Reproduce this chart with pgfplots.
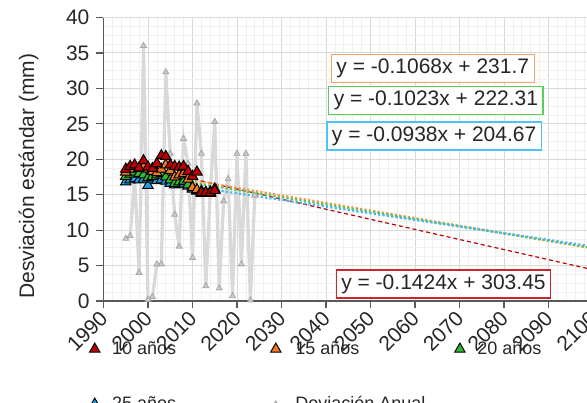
\documentclass[border=0pt]{standalone}
\usepackage{fontspec}
\setmainfont{Liberation Sans}
\usepackage{pgfplots}
\pgfplotsset{compat=1.18}

\definecolor{cRed}{HTML}{C00000}
\definecolor{cOrange}{HTML}{F57A1F}
\definecolor{cGreen}{HTML}{33B833}
\definecolor{cBlue}{HTML}{1AA5E6}
\definecolor{cGray}{HTML}{A6A6A6}
\definecolor{cLine}{HTML}{D9D9D9}
\definecolor{txt}{HTML}{262626}
\definecolor{axl}{HTML}{595959}
\definecolor{bOrange}{HTML}{F4A460}
\definecolor{bGreen}{HTML}{5ACD5A}
\definecolor{bBlue}{HTML}{4FC3F7}
\definecolor{bRed}{HTML}{C8282D}

\pgfplotsset{
    tri/.style={only marks, mark=triangle*, mark size=3pt,
        mark options={fill=#1, draw=black, line width=0.5pt},
        legend image code/.code={
            \draw[##1] plot coordinates {(0pt,0pt)};
            \path (-3pt,0pt) (6.5pt,0pt);}},
    annual/.style={cLine, line width=1.6pt, mark=triangle*, mark size=1.7pt,
        mark options={fill=black!20, draw=cGray, line width=0.4pt},
        legend image code/.code={
            \draw[##1, mark repeat=2, mark phase=2]
                plot coordinates {(-7pt,0pt) (0pt,0pt) (7pt,0pt)};}},
}

\begin{document}
\begin{tikzpicture}
\useasboundingbox (-51.75pt,-50.5pt) rectangle (241.75pt,150.5pt);
\begin{axis}[
    at={(0pt,0pt)}, anchor=south west,
    width=244.75pt, height=141.75pt, scale only axis,
    xmin=1990, xmax=2100, ymin=0, ymax=40,
    xtick={1990,2000,...,2100}, ytick={0,5,...,40},
    minor x tick num=4, minor y tick num=3,
    grid=both,
    major grid style={cLine, line width=0.5pt},
    minor grid style={black!6, line width=0.4pt},
    axis x line*=bottom, axis y line*=left,
    axis line style={axl, line width=0.7pt},
    tick align=outside, major tick length=3.5pt, minor tick length=0pt,
    tick style={axl, line width=0.6pt},
    /pgf/number format/1000 sep={},
    /pgf/number format/assume math mode=true,
    tick label style={font=\fontsize{10.5}{12.6}\selectfont, text=txt},
    xticklabel style={xshift=-2.5pt, yshift=1pt, rotate=45, anchor=north east, inner sep=1pt},
    ylabel={Desviación estándar (mm)},
    ylabel style={font=\fontsize{10.5}{12.6}\selectfont, text=txt,
        at={(axis description cs:-0.153,0.44)}, anchor=center},
    legend columns=3,
    legend cell align=left,
    legend style={at={(axis description cs:-0.044,-0.112)}, anchor=north west,
        draw=none, fill=none, font=\fontsize{9}{10.8}\selectfont, text=txt,
        /tikz/column 2/.style={column sep=40pt},
        /tikz/column 4/.style={column sep=12pt},
        /tikz/row sep=15.5pt},
]

% annual series, drawn first so it sits behind
\addplot[annual, forget plot]
coordinates {
(1995,8.8) (1996,9.2) (1997,17.5) (1998,4.0) (1999,36.0) (2000,0.2)
(2001,0.6) (2002,5.2) (2003,5.2) (2004,32.3) (2005,20.8) (2006,12.2)
(2007,7.7) (2008,22.9) (2009,19.4) (2010,6.1) (2011,27.9) (2012,20.8)
(2013,2.1) (2014,15.5) (2015,25.3) (2016,1.8) (2017,14.1) (2018,17.2)
(2019,0.7) (2020,20.8) (2021,5.2) (2022,20.8) (2023,0.1) (2024,14.9)
};

% trend lines (endpoints from the fitted equations)
\addplot[cRed, line width=0.6pt, dash pattern=on 2pt off 1.5pt, forget plot]
    coordinates {(1995,19.36) (2100,4.41)};
\addplot[cOrange!80, line width=1.1pt, dash pattern=on 1.1pt off 1.1pt, forget plot]
    coordinates {(1995,18.63) (2100,7.42)};
\addplot[cGreen!80, line width=1.1pt, dash pattern=on 1.1pt off 1.1pt, forget plot]
    coordinates {(1995,18.22) (2100,7.48)};
\addplot[cBlue!80, line width=1.1pt, dash pattern=on 1.1pt off 1.1pt, forget plot]
    coordinates {(1995,17.54) (2100,7.69)};

% 25 años
\addplot[tri=cBlue, forget plot]
coordinates {
(1995,16.8) (1996,17.1) (1997,17.3) (1998,17.1) (1999,17.2) (2000,16.3)
(2001,17.2) (2002,17.0) (2003,17.1) (2004,16.9) (2005,16.6) (2006,16.4)
(2007,16.5) (2008,16.5) (2009,16.2) (2010,15.8) (2011,15.5) (2012,15.2)
(2013,15.2) (2014,15.2)
};

% 20 años
\addplot[tri=cGreen, forget plot]
coordinates {
(1995,17.6) (1996,17.9) (1997,18.2) (1998,18.0) (1999,17.8) (2000,17.4)
(2001,17.6) (2002,17.8) (2003,18.0) (2004,17.5) (2005,17.1) (2006,16.6)
(2007,16.8) (2008,16.9) (2009,16.4) (2010,16.0) (2011,15.6) (2012,15.4)
(2013,15.3) (2014,15.4) (2015,15.8)
};

% 15 años
\addplot[tri=cOrange, forget plot]
coordinates {
(1995,18.2) (1996,18.6) (1997,19.0) (1998,18.7) (1999,18.9) (2000,18.6)
(2001,18.3) (2002,18.1) (2003,18.6) (2004,19.2) (2005,18.4) (2006,17.5)
(2007,17.8) (2008,18.0) (2009,17.2) (2010,16.0) (2011,15.7) (2012,15.5)
(2013,15.3)
};

% 10 años
\addplot[tri=cRed, forget plot]
coordinates {
(1995,18.6) (1996,19.0) (1997,19.2) (1998,18.8) (1999,19.8) (2000,18.9)
(2001,18.7) (2002,19.4) (2003,20.5) (2004,20.4) (2005,19.2) (2006,19.0)
(2007,18.9) (2008,19.0) (2009,18.3) (2010,17.6) (2011,18.2) (2012,15.3)
(2013,15.3) (2014,15.3) (2015,15.6)
};

% legend in the original series order
\addlegendimage{tri=cRed}
\addlegendentry{10 años}
\addlegendimage{tri=cOrange}
\addlegendentry{15 años}
\addlegendimage{tri=cGreen}
\addlegendentry{20 años}
\addlegendimage{tri=cBlue}
\addlegendentry{25 años}
\addlegendimage{annual}
\addlegendentry{Deviación Anual}

% equation boxes
\begin{scope}[every node/.style={fill=white, text=txt, inner xsep=2.5pt,
    inner ysep=0pt, minimum height=14pt, line width=0.6pt,
    font=\fontsize{10.5}{12.6}\selectfont}]
\node[draw=bOrange] at (axis cs:2064.0,32.8) {y = -0.1068x + 231.7};
\node[draw=bGreen]  at (axis cs:2064.7,28.3) {y = -0.1023x + 222.31};
\node[draw=bBlue]   at (axis cs:2064.3,23.27) {y = -0.0938x + 204.67};
\node[draw=bRed]    at (axis cs:2066.4,2.4) {y = -0.1424x + 303.45};
\end{scope}
\end{axis}
\end{tikzpicture}
\end{document}
